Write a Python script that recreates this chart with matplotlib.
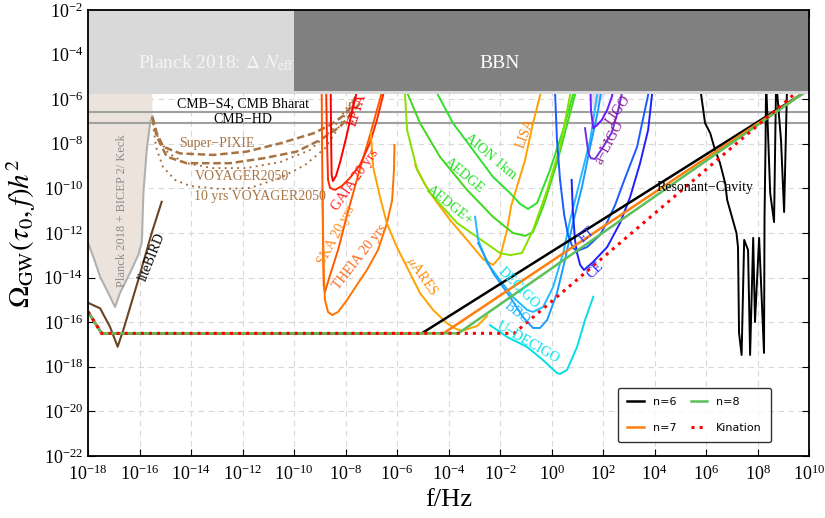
import numpy as np
import matplotlib
matplotlib.use("Agg")
import matplotlib.pyplot as plt
from matplotlib.ticker import FixedLocator, NullLocator, LogFormatterMathtext

plt.rcParams["font.family"] = "serif"
plt.rcParams["font.serif"] = ["Liberation Serif", "DejaVu Serif"]
plt.rcParams["mathtext.fontset"] = "stix"

# ---- data: log10(f/Hz), log10(Omega h^2) ----
PLANCK_BAND = -5.76
BBN_BAND = -5.62
BBN_FMIN = -10
CMB_S4 = -6.56
CMB_HD = -7.08

# Planck 2018 + BICEP2/Keck excluded region (lower boundary)
bk_f = [-18, -17.79, -17.53, -17.27, -16.95, -16.76, -16.37, -16.05, -15.91, -15.85, -15.72, -15.59, -15.50]
bk_o = [-12.45, -13.08, -13.97, -14.56, -15.32, -14.69, -13.79, -12.99, -12.40, -10.21, -8.28, -7.07, -6.75]

lite_f = [-18.0, -17.53, -17.15, -16.85, -16.63, -16.05, -15.53, -15.14]
lite_o = [-15.13, -15.38, -16.20, -17.10, -16.35, -14.11, -12.01, -10.60]

# spectral distortion curves
pixie1_f = [-15.50, -15.33, -15.08, -14.43, -13.13, -11.84, -10.54, -9.25, -8.60, -7.95, -7.57]
pixie1_o = [-6.80, -7.53, -8.13, -8.43, -8.50, -8.35, -7.98, -7.53, -7.16, -6.63, -5.81]
pixie2_f = [-15.50, -15.33, -14.94, -14.17, -12.49, -11.19, -9.90, -8.99, -8.21, -7.44]
pixie2_o = [-6.80, -7.68, -8.58, -8.87, -8.87, -8.65, -8.35, -7.83, -7.23, -6.18]
voy_f = [-15.50, -15.46, -15.28, -14.89, -14.23, -13.15, -11.86, -10.54, -9.38, -8.52, -7.75]
voy_o = [-6.80, -7.07, -7.74, -8.41, -8.86, -9.09, -9.09, -8.82, -8.28, -7.38, -6.04]
voy10_f = [-15.50, -15.46, -15.36, -15.09, -14.62, -14.04, -12.87, -11.71, -10.54, -9.57, -8.79, -8.21, -7.75]
voy10_o = [-6.80, -7.29, -8.14, -9.04, -9.62, -9.89, -10.03, -9.98, -9.53, -8.95, -8.19, -7.16, -6.04]

# pulsar timing / astrometry
ska_f = [-8.93, -8.91, -8.88, -8.85, -8.80, -8.60, -8.29, -7.94, -7.51, -7.05, -6.62, -6.47]
ska_o = [-5.14, -8.28, -11.87, -14.33, -14.65, -13.88, -12.76, -11.19, -9.40, -7.61, -5.81, -5.14]
theia_f = [-8.89, -8.85, -8.80, -8.68, -8.52, -8.29, -7.94, -7.51, -7.17, -6.74, -6.39, -6.19, -6.12, -6.10]
theia_o = [-10.52, -13.66, -15.00, -15.54, -15.68, -15.54, -15.00, -14.24, -13.66, -12.76, -11.55, -10.52, -9.17, -8.05]
gaia_f = [-8.76, -8.72, -8.68, -8.60, -8.41, -8.14, -7.83, -7.44, -7.05, -6.78, -6.54, -6.43]
gaia_o = [-5.14, -7.83, -9.62, -9.98, -10.07, -9.89, -9.53, -8.95, -7.96, -6.93, -5.81, -5.14]
epta_f = [-8.58, -8.56, -8.54, -8.49, -8.37, -8.21, -7.98, -7.75, -7.59, -7.51]
epta_o = [-5.14, -7.83, -9.40, -9.67, -9.44, -8.82, -7.74, -6.57, -5.81, -5.14]

# space / atom interferometers
mares_f = [-7.02, -6.93, -6.66, -6.40, -6.01, -5.62, -5.11, -4.60, -4.07, -3.71, -3.48, -3.24, -2.89, -2.50]
mares_o = [-7.46, -9.04, -10.39, -11.55, -12.63, -13.52, -14.69, -15.45, -16.04, -16.30, -16.39, -16.30, -16.17, -15.72]
lisa_f = [-5.30, -4.95, -4.60, -3.94, -3.28, -2.66, -2.27, -2.00, -1.73, -1.57, -1.30, -1.03, -0.72, -0.44, -0.33]
lisa_o = [-8.95, -9.76, -10.39, -11.42, -12.31, -13.17, -13.43, -13.08, -11.87, -10.79, -9.76, -8.73, -7.07, -5.81, -5.14]
aion_f = [-4.64, -4.41, -3.83, -3.05, -2.27, -1.61, -1.22, -0.91, -0.56, -0.06, 0.45, 0.83, 0.95]
aion_o = [-5.14, -5.81, -7.07, -8.28, -9.49, -10.21, -10.70, -10.92, -10.65, -9.17, -7.38, -5.81, -5.14]
aedge_f = [-5.77, -5.57, -5.11, -4.33, -3.28, -2.27, -1.50, -1.03, -0.72, -0.33, 0.21, 0.72, 0.91, 0.99]
aedge_o = [-5.14, -5.81, -7.07, -8.59, -10.07, -11.28, -12.00, -12.13, -11.96, -10.83, -8.86, -6.62, -5.81, -5.14]
aedgep_f = [-5.81, -5.69, -5.61, -5.22, -4.72, -3.67, -2.89, -2.00, -1.61, -1.15, -0.72, -0.17, 0.33, 0.72, 0.80]
aedgep_o = [-5.14, -5.81, -7.38, -9.17, -10.21, -11.55, -12.18, -12.90, -12.99, -12.90, -11.87, -10.07, -8.14, -5.81, -5.14]
decigo_f = [-2.97, -2.85, -2.50, -2.00, -1.50, -0.95, -0.72, -0.33, 0.06, 0.45, 0.72, 1.11, 1.50, 1.77, 1.85]
decigo_o = [-11.27, -12.31, -13.35, -14.11, -14.87, -15.45, -15.54, -15.32, -14.42, -12.90, -11.42, -9.62, -7.83, -5.81, -5.14]
bbo_f = [-2.85, -2.27, -1.61, -1.11, -0.72, -0.45, -0.17, 0.21, 0.52, 0.83, 1.18, 1.50, 1.81, 2.00]
bbo_o = [-12.45, -13.79, -14.87, -15.77, -16.26, -16.26, -15.90, -14.69, -13.21, -11.55, -9.94, -8.14, -6.48, -5.14]
udecigo_f = [-2.39, -1.73, -0.95, -0.33, 0.21, 0.33, 0.60, 0.99, 1.30, 1.62]
udecigo_o = [-16.13, -16.66, -17.11, -17.70, -18.28, -18.32, -18.14, -17.11, -15.90, -14.86]

# ground based
et_f = [0.10, 0.14, 0.21, 0.33, 0.49, 0.64, 0.83, 0.99, 1.38, 1.88, 2.16, 2.47, 2.78, 3.32, 3.75, 3.86]
et_o = [-5.14, -5.81, -7.83, -9.62, -11.19, -12.09, -12.67, -12.81, -12.63, -12.09, -11.51, -10.74, -9.76, -8.14, -5.81, -5.14]
ce_f = [0.78, 0.83, 0.91, 0.99, 1.11, 1.26, 1.61, 2.16, 2.66, 3.05, 3.44, 3.75, 3.90, 3.98]
ce_o = [-9.62, -11.10, -12.31, -12.90, -13.43, -13.66, -13.30, -12.63, -11.55, -10.39, -8.86, -7.38, -5.81, -5.14]
ligo_f = [1.50, 1.53, 1.62, 1.77, 1.95, 2.16, 2.35, 2.43]
ligo_o = [-5.14, -6.48, -7.30, -7.16, -6.93, -6.48, -5.86, -5.14]
aligo_f = [1.30, 1.43, 1.53, 1.69, 2.01, 2.34, 2.59, 2.74, 2.81]
aligo_o = [-7.30, -8.43, -8.65, -8.68, -8.13, -7.49, -6.48, -5.68, -5.14]
ligo_excl_f = [1.50, 1.62, 1.69, 2.27]
ligo_excl_o = [-5.5, -6.48, -6.48, -5.5]
cav_f = [5.73, 5.96, 6.16, 6.35, 6.54, 6.74, 6.82, 6.93, 7.18, 7.24, 7.28, 7.38, 7.48, 7.63, 7.71, 7.83,
         7.90, 8.06, 8.25, 8.27, 8.31, 8.33, 8.49, 8.64, 8.72, 8.91, 9.03, 9.15]
cav_o = [-5.14, -7.07, -7.52, -8.28, -8.86, -9.76, -10.52, -10.97, -12.00, -12.63, -16.48, -17.47, -12.31, -12.76,
         -17.47, -12.22, -15.99, -12.22, -17.38, -11.28, -7.96, -5.14, -10.21, -11.51, -5.14, -7.83, -11.06, -5.14]

# GW spectra: common plateau, then break to a rising branch
plat_f = [-18.0, -17.47]
plat_o = [-15.53, -16.50]
PLATEAU = -16.50
spectra = {
    "n=6": dict(f_break=-5.04, f_end=9.75, o_end=-5.75, color="black", ls="-"),
    "n=7": dict(f_break=-4.20, f_end=9.75, o_end=-5.75, color="#ff7f0e", ls="-"),
    "n=8": dict(f_break=-3.62, f_end=9.75, o_end=-5.75, color="#5cbf5c", ls="-"),
    "Kination": dict(f_break=-1.45, f_end=9.50, o_end=-5.70, color="red", ls=":"),
}

P = lambda a: 10.0 ** np.asarray(a, dtype=float)

fig = plt.figure(figsize=(8.25, 5.18), dpi=100)
ax = fig.add_axes([0.1067, 0.1197, 0.874, 0.861])
ax.set_xscale("log")
ax.set_yscale("log")
ax.set_xlim(1e-18, 1e10)
ax.set_ylim(1e-22, 1e-2)
ax.set_axisbelow(True)

# bands
ax.fill_between(P([-18, 10]), P([PLANCK_BAND] * 2), 1e-2, color="#d9d9d9", lw=0, zorder=3)
ax.fill_between(P([BBN_FMIN, 10]), P([BBN_BAND] * 2), 1e-2, color="#808080", lw=0, zorder=3.1)
ax.axhline(P(CMB_S4), color="#a0a0a0", lw=1.5, zorder=1.5)
ax.axhline(P(CMB_HD), color="#a0a0a0", lw=1.5, zorder=1.5)

# Planck + BICEP/Keck region
ax.fill(P(bk_f + [-15.5, -18]), P(bk_o + [-5.0, -5.0]), color="#ece4dc", lw=0, zorder=1)
ax.plot(P(bk_f), P(bk_o), color="#b0b0b0", lw=1.5, zorder=1.2)
ax.fill(P(ligo_excl_f), P(ligo_excl_o), color="#e8dbef", lw=0, zorder=1)

brown = "#a87444"
ax.plot(P(lite_f), P(lite_o), color="#6b4423", lw=1.5, zorder=2)
ax.plot(P(pixie1_f), P(pixie1_o), color=brown, lw=1.8, ls=(0, (3, 1.5)), zorder=2)
ax.plot(P(pixie2_f), P(pixie2_o), color=brown, lw=1.8, ls=(0, (3, 1.5)), zorder=2)
ax.plot(P(voy_f), P(voy_o), color=brown, lw=1.4, ls=(0, (1, 2.2)), zorder=2)
ax.plot(P(voy10_f), P(voy10_o), color=brown, lw=1.4, ls=(0, (1, 2.2)), zorder=2)

curves = [
    (ska_f, ska_o, "#ff5a00"), (theia_f, theia_o, "#ff7300"), (gaia_f, gaia_o, "#ff2a00"),
    (epta_f, epta_o, "#ff0000"), (mares_f, mares_o, "#ffa200"), (lisa_f, lisa_o, "#ffa000"),
    (aion_f, aion_o, "#2fe02f"), (aedge_f, aedge_o, "#3fd81f"), (aedgep_f, aedgep_o, "#88e000"),
    (decigo_f, decigo_o, "#22bbff"), (bbo_f, bbo_o, "#1a9cff"), (udecigo_f, udecigo_o, "#00e0e6"),
    (et_f, et_o, "#1a5cff"), (ce_f, ce_o, "#2020ff"), (ligo_f, ligo_o, "#6a1bff"),
    (aligo_f, aligo_o, "#7030e0"), (cav_f, cav_o, "black"),
]
for fx, oy, c in curves:
    ax.plot(P(fx), P(oy), color=c, lw=1.4, zorder=2)

# spectra
for name, s in spectra.items():
    fx = plat_f + [s["f_break"], s["f_end"]]
    oy = plat_o + [PLATEAU, s["o_end"]]
    lw = 2.2 if s["ls"] == ":" else 1.8
    ax.plot(P(fx), P(oy), color=s["color"], ls=s["ls"], lw=lw, label=name, zorder=2.4)

# labels
txt = dict(ha="center", va="center", zorder=6)
ax.text(P(-13.03), P(-4.38), r"Planck 2018: $\Delta\ N_{\rm eff}$", color="#f5f5f5", fontsize=14, **txt)
ax.text(P(-2.0), P(-4.38), "BBN", color="white", fontsize=14, **txt)
ax.text(P(-12.0), P(-6.22), "CMB\u2212S4, CMB Bharat", fontsize=10, **txt)
ax.text(P(-12.0), P(-6.89), "CMB\u2212HD", fontsize=10, **txt)
ax.text(P(-13.0), P(-7.98), "Super\u2212PIXIE", color=brown, fontsize=10, **txt)
ax.text(P(-12.03), P(-9.48), "VOYAGER2050", color=brown, fontsize=10, **txt)
ax.text(P(-11.32), P(-10.37), "10 yrs VOYAGER2050", color=brown, fontsize=10, **txt)
ax.text(P(-16.69), P(-11.01), "Planck 2018 + BICEP 2/ Keck", color="#8c8c8c", fontsize=9, rotation=90, **txt)
ax.text(P(-15.53), P(-13.06), "liteBIRD", fontsize=10, rotation=68, **txt)

labels = [
    ("EPTA", -7.55, -6.48, 72, "#ff0000"), ("GAIA 20 yrs", -7.63, -9.62, 55, "#ff2020"),
    ("SKA 20 yrs", -8.34, -12.09, 62, "#ff8a1a"), ("THEIA 20 yrs", -7.44, -13.06, 52, "#ff6a1a"),
    ("$\\mu$ARES", -5.04, -13.96, -55, "#ff8c00"), ("AION 1km", -2.39, -8.59, -40, "#22dd22"),
    ("AEDGE", -3.40, -9.44, -40, "#22dd22"), ("AEDGE+", -3.94, -10.74, -38, "#22dd22"),
    ("LISA", -1.03, -7.52, 70, "#ff8000"), ("DECIGO", -1.30, -14.47, -45, "#00e0f0"),
    ("BBO", -1.34, -15.59, -38, "#22bbff"), ("U\u2212DECIGO", -0.91, -16.93, -30, "#00e0e6"),
    ("ET", 1.38, -12.09, 40, "#2a2aff"), ("CE", 1.69, -13.66, 45, "#2a2aff"),
    ("LIGO", 2.58, -6.48, 55, "#8b1a9a"), ("a\u2212LIGO", 2.27, -7.96, 62, "#8b1a9a"),
    ("Resonant\u2212Cavity", 5.96, -9.98, 0, "black"),
]
for s, lf, lo, rot, c in labels:
    ax.text(P(lf), P(lo), s, color=c, fontsize=10, rotation=rot, rotation_mode="anchor", **txt)

# axes styling
ax.xaxis.set_major_locator(FixedLocator(P(np.arange(-18, 11, 2))))
ax.yaxis.set_major_locator(FixedLocator(P(np.arange(-22, -1, 2))))
ax.xaxis.set_minor_locator(NullLocator())
ax.yaxis.set_minor_locator(NullLocator())
ax.xaxis.set_major_formatter(LogFormatterMathtext())
ax.yaxis.set_major_formatter(LogFormatterMathtext())
ax.tick_params(which="major", direction="in", length=5, width=0.8, top=True, right=True, labelsize=13)
ax.tick_params(axis="x", pad=6)
ax.grid(True, color="#d8d8d8", ls=(0, (5, 4)), lw=0.8)
for sp in ax.spines.values():
    sp.set_linewidth(1.3)
    sp.set_zorder(10)

ax.set_xlabel("f/Hz", fontsize=19)
ax.set_ylabel(r"$\Omega_{\rm GW}(\tau_0,f)h^2$", fontsize=21)

leg = ax.legend(ncol=2, loc="lower right", bbox_to_anchor=(0.947, 0.031), borderaxespad=0,
                prop={"family": "DejaVu Sans", "size": 8}, frameon=True, fancybox=True,
                edgecolor="black", handlelength=1.5, handletextpad=0.8, labelspacing=1.5,
                columnspacing=1.3, borderpad=0.8)
leg.get_frame().set_linewidth(1.0)
leg.set_zorder(7)

fig.savefig("out.png", dpi=100)
